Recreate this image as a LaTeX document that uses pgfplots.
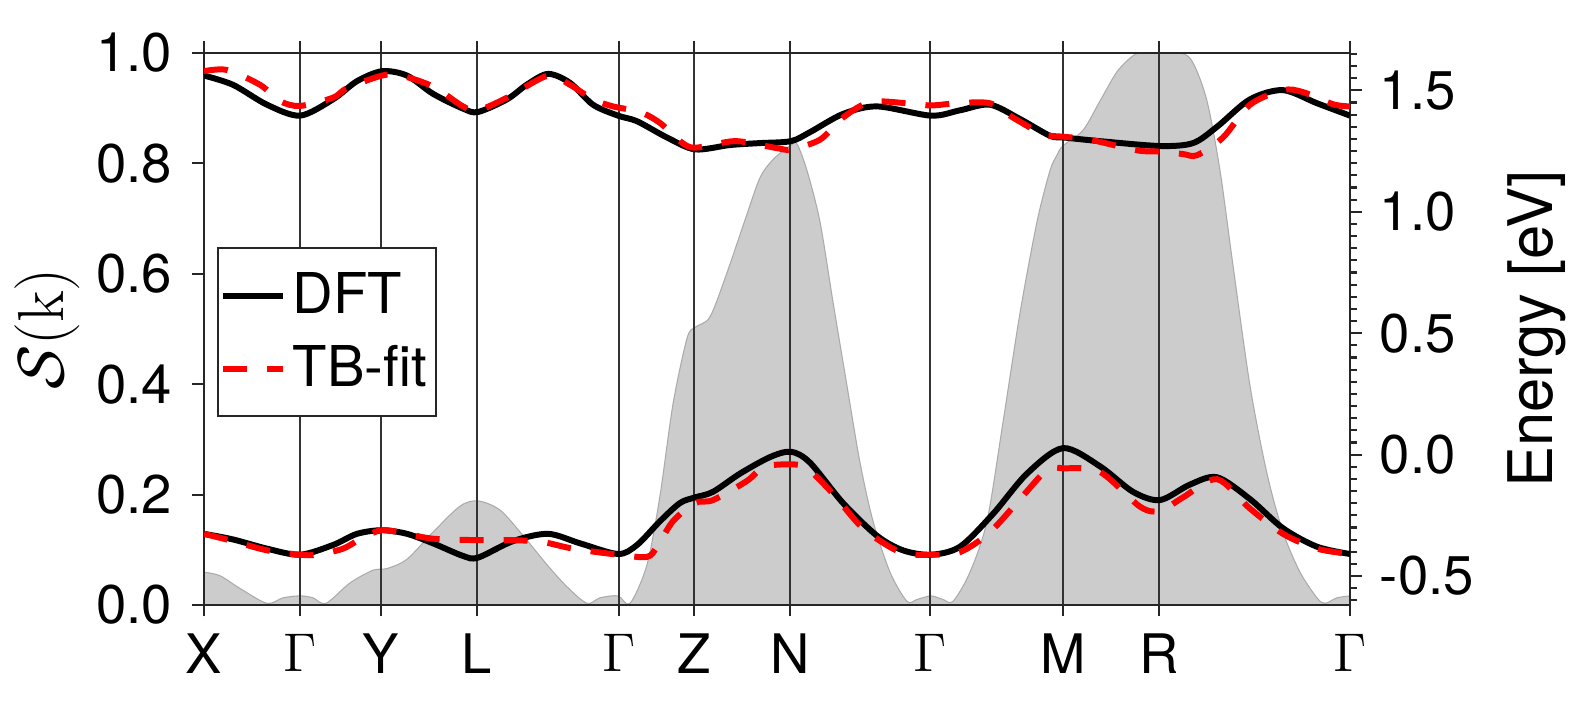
\RequirePackage{fix-cm}
\documentclass[border=0pt]{standalone}
\usepackage[no-math]{fontspec}
\setmainfont{TeX Gyre Heros}
\usepackage{pgfplots}
\pgfplotsset{compat=1.18}

\definecolor{sgray}{HTML}{CCCCCC}
\definecolor{sedge}{HTML}{ABABAB}
\definecolor{axcol}{HTML}{262626}

\pgfplotsset{
  bandaxis/.style={
    width=114.6mm, height=55.2mm, scale only axis,
    xmin=0, xmax=1146,
    tick align=outside,
    major tick length=1.15mm, minor tick length=0.7mm,
    axis line style={axcol, line width=0.6pt},
    tick style={axcol, line width=0.6pt},
    /pgf/number format/assume math mode=true,
    yticklabel style={/pgf/number format/fixed, /pgf/number format/fixed zerofill, /pgf/number format/precision=1},
    tick label style={font=\fontsize{15.5}{18}\selectfont},
  },
  dft/.style={black, line width=1.7pt, smooth},
  tb/.style={red, line width=1.7pt, dash pattern=on 2.4mm off 2mm, smooth},
}

\begin{document}
\begin{tikzpicture}
% S(k) on the left axis
\begin{axis}[bandaxis,
  name=ax,
  ymin=0, ymax=1,
  xtick={0,96,177,273,415,490,586,726,859,955,1146},
  xticklabels={X,$\Gamma$,Y,L,$\Gamma$,Z,N,$\Gamma$,M,R,$\Gamma$},
  ytick={0,0.2,0.4,0.6,0.8,1},
  xtick pos=both, ytick pos=left,
  xticklabel style={yshift=-0.5mm},
  yticklabel style={xshift=-0.8mm},
  xmajorgrids, major grid style={black!80, line width=0.3pt},
  axis on top,
  ylabel={$\mathcal{S}(\mathrm{k})$},
  ylabel style={at={(rel axis cs:-0.137,0.5)}, anchor=center, font=\fontsize{18.5}{22}\selectfont},
]
\addplot[fill=sgray, draw=sedge, line width=0.3pt, smooth] table {
0 0.0595
16 0.053
36 0.030
63 0.003
79 0.013
96 0.0165
109 0.013
122 0.003
146 0.040
169 0.063
183 0.066
203 0.083
229 0.132
256 0.179
274 0.1885
296 0.172
319 0.126
343 0.073
363 0.033
383 0.003
396 0.013
414 0.0165
426 0.003
443 0.073
456 0.198
469 0.364
483 0.483
491 0.503
506 0.522
523 0.602
543 0.708
556 0.774
569 0.807
587 0.833
593 0.835
603 0.787
616 0.694
629 0.549
643 0.397
656 0.258
669 0.152
686 0.0595
703 0.0066
713 0.010
727 0.0165
739 0.010
749 0.0066
766 0.0595
783 0.152
799 0.331
816 0.529
833 0.694
846 0.787
853 0.815
859 0.832
879 0.860
896 0.913
913 0.966
929 0.995
939 1.0
976 1.0
989 0.982
1003 0.913
1016 0.787
1029 0.615
1046 0.397
1063 0.238
1079 0.132
1096 0.0595
1113 0.013
1121 0.003
1133 0.013
1146 0.0165
} \closedcycle;
\end{axis}

% bands on the right axis
\begin{axis}[bandaxis,
  ymin=-0.619, ymax=1.654,
  hide x axis, axis y line*=right,
  ytick={-0.5,0,0.5,1,1.5},
  minor ytick={-0.6,-0.55,-0.45,-0.4,-0.35,-0.3,-0.25,-0.2,-0.15,-0.1,-0.05,0.05,0.1,0.15,0.2,0.25,0.3,0.35,0.4,0.45,0.55,0.6,0.65,0.7,0.75,0.8,0.85,0.9,0.95,1.05,1.1,1.15,1.2,1.25,1.3,1.35,1.4,1.45,1.55,1.6,1.65},
  yticklabel style={xshift=0.6mm},
  ylabel={Energy [eV]},
  ylabel style={at={(rel axis cs:1.163,0.5)}, anchor=center, font=\fontsize{17.5}{21}\selectfont},
  legend style={at={(rel axis cs:0.0113,0.6485)}, anchor=north west,
    draw=axcol, line width=0.6pt, font=\fontsize{16}{19}\selectfont,
    inner xsep=0.5pt, inner ysep=5pt, row sep=3.5pt},
  legend cell align=left,
  legend image code/.code={\draw[#1] (0mm,0mm) -- (6mm,0mm);},
]
\addplot[dft] table {
0 1.561
29 1.523
63 1.441
96 1.396
129 1.463
153 1.538
178 1.579
203 1.561
229 1.486
259 1.425
274 1.411
303 1.463
323 1.524
344 1.568
366 1.531
389 1.441
414 1.396
433 1.373
463 1.306
491 1.257
526 1.275
556 1.283
587 1.291
606 1.328
639 1.403
673 1.434
727 1.396
756 1.418
786 1.441
816 1.382
846 1.313
860 1.306
896 1.291
956 1.271
989 1.283
1013 1.350
1046 1.463
1079 1.501
1113 1.447
1146 1.396
};
\addlegendentry{DFT}
\addplot[tb] table {
0 1.579
23 1.584
56 1.523
76 1.456
96 1.436
129 1.470
143 1.509
178 1.561
197 1.561
229 1.516
259 1.434
274 1.418
303 1.470
344 1.561
366 1.523
389 1.463
409 1.434
436 1.411
456 1.366
476 1.291
491 1.264
530 1.291
560 1.272
576 1.260
587 1.257
616 1.297
639 1.388
666 1.452
703 1.447
727 1.438
753 1.447
786 1.447
809 1.388
839 1.320
860 1.309
886 1.297
933 1.253
956 1.248
979 1.238
993 1.233
1019 1.306
1046 1.441
1079 1.501
1099 1.493
1129 1.443
1146 1.434
};
\addlegendentry{TB-fit}
\addplot[dft, forget plot] table {
0 -0.326
29 -0.349
63 -0.387
96 -0.412
129 -0.372
153 -0.326
178 -0.311
203 -0.326
229 -0.365
259 -0.417
274 -0.424
309 -0.356
344 -0.326
376 -0.365
414 -0.409
433 -0.372
456 -0.274
476 -0.199
491 -0.176
509 -0.153
536 -0.078
566 -0.010
587 0.012
606 -0.033
639 -0.199
673 -0.334
699 -0.394
727 -0.412
756 -0.379
789 -0.244
823 -0.078
859 0.027
896 -0.048
929 -0.153
956 -0.187
986 -0.123
1013 -0.093
1046 -0.183
1079 -0.303
1113 -0.379
1146 -0.409
};
\addplot[tb, forget plot] table {
0 -0.326
29 -0.356
63 -0.394
96 -0.412
113 -0.412
139 -0.387
159 -0.341
178 -0.311
203 -0.326
229 -0.346
274 -0.352
309 -0.352
339 -0.360
369 -0.387
414 -0.412
443 -0.421
453 -0.379
469 -0.274
491 -0.199
509 -0.187
543 -0.108
560 -0.050
587 -0.040
603 -0.056
629 -0.161
659 -0.303
696 -0.401
727 -0.412
756 -0.401
786 -0.319
819 -0.169
843 -0.063
860 -0.056
896 -0.071
936 -0.214
956 -0.232
979 -0.176
1013 -0.101
1046 -0.222
1079 -0.326
1113 -0.387
1146 -0.409
};
\end{axis}
\pgfresetboundingbox
\path ([shift={(-20.4mm,-10.3mm)}]ax.south west) rectangle ([shift={(22mm,5.3mm)}]ax.north east);
\end{tikzpicture}
\end{document}
